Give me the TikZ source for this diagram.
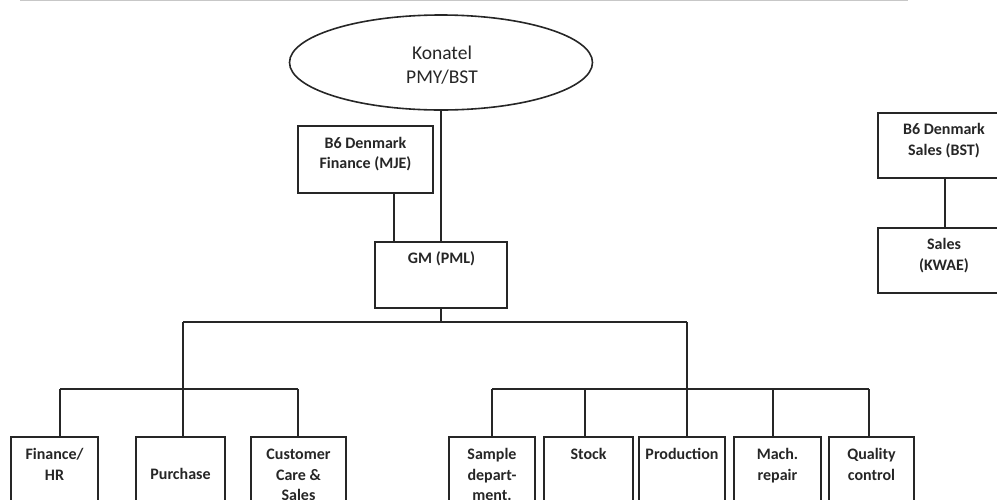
\documentclass[tikz,border=0pt]{standalone}
\usepackage{fontspec}
\setmainfont{Carlito}
\usetikzlibrary{shapes.geometric}
\begin{document}
\begin{tikzpicture}[x=1pt,y=-1pt,
  box/.style={draw=black!85, line width=1.6pt, inner sep=0, outer sep=0, anchor=north west},
  lbl/.style={font=\fontsize{16}{20.5}\selectfont\bfseries, align=center, inner sep=0, anchor=north, text=black!85},
  wire/.style={draw=black!85, line width=1.6pt}]
\useasboundingbox (0,0) rectangle (997,499);
\clip (0,0) rectangle (997,499);
% faint scan border at top
\coordinate (tl) at (20,0.8);
\coordinate (tr) at (908,0.8);
\draw[black!22, line width=1pt] (tl) -- (tr);

% top
\node[ellipse, draw=black!85, line width=1.6pt, minimum width=303, minimum height=95, inner sep=0] (kon) at (441,62.5) {};
\node[lbl, font=\fontsize{19.5}{24}\selectfont] (kont) at (442,42.5) {\strut Konatel\\PMY/BST};

\node[box, minimum width=135, minimum height=67] (mje) at (298,126) {};
\node[lbl] (mjet) at (365.5,133.8) {\strut B6 Denmark\\Finance (MJE)};

\node[box, minimum width=132, minimum height=66] (gm) at (375,242) {};
\node[lbl] (gmt) at (441.5,248.8) {\strut GM (PML)};

% right
\node[box, minimum width=132, minimum height=65] (bst) at (878,113) {};
\node[lbl] (bstt) at (944,120) {\strut B6 Denmark\\Sales (BST)};
\node[box, minimum width=132, minimum height=65] (kwae) at (878,228) {};
\node[lbl] (kwaet) at (944,235) {\strut Sales\\(KWAE)};

% bottom row
\node[box, minimum width=87, minimum height=90] (fin) at (11,437) {};
\node[lbl] (fint) at (54.5,445) {\strut Finance/\\HR};
\node[box, minimum width=89, minimum height=90] (pur) at (136,437) {};
\node[lbl] (purt) at (180.5,465) {\strut Purchase};
\node[box, minimum width=95, minimum height=90] (cus) at (251,437) {};
\node[lbl] (cust) at (298.5,445) {\strut Customer\\Care \&\\Sales};
\node[box, minimum width=86, minimum height=90] (sam) at (449,437) {};
\node[lbl] (samt) at (492,445) {\strut Sample\\depart-\\ment.};
\node[box, minimum width=89, minimum height=90] (sto) at (544,437) {};
\node[lbl] (stot) at (588.5,445) {\strut Stock};
\node[box, minimum width=86, minimum height=90] (pro) at (639,437) {};
\node[lbl] (prot) at (682,445) {\strut Production};
\node[box, minimum width=87, minimum height=90] (mac) at (734,437) {};
\node[lbl] (mact) at (777.5,445) {\strut Mach.\\repair};
\node[box, minimum width=85, minimum height=90] (qua) at (829,437) {};
\node[lbl] (quat) at (871.5,445) {\strut Quality\\control};

% junctions
\coordinate (bus) at (441,322);
\coordinate (busL) at (183,322);
\coordinate (busR) at (687,322);
\coordinate (jL) at (183,389);
\coordinate (jR) at (687,389);
\coordinate (j1) at (60,389);
\coordinate (j3) at (298,389);
\coordinate (k1) at (492,389);
\coordinate (k2) at (585,389);
\coordinate (k4) at (773,389);
\coordinate (k5) at (869,389);
\coordinate (fx) at (394,193);

% connectors
\draw[wire] (kon.south) -- (kon.south |- gm.north);
\draw[wire] (fx) -- (fx |- gm.north);
\draw[wire] (gm.south -| bus) -- (bus);
\draw[wire] (busL) -- (busR);
\draw[wire] (busL) -- (busL |- pur.north);
\draw[wire] (busR) -- (busR |- pro.north);
\draw[wire] (j1) -- (j3);
\draw[wire] (j1) -- (j1 |- fin.north);
\draw[wire] (j3) -- (j3 |- cus.north);
\draw[wire] (k1) -- (k5);
\draw[wire] (k1) -- (k1 |- sam.north);
\draw[wire] (k2) -- (k2 |- sto.north);
\draw[wire] (k4) -- (k4 |- mac.north);
\draw[wire] (k5) -- (k5 |- qua.north);
\draw[wire] (bst.south -| 945,0) -- (kwae.north -| 945,0);
\end{tikzpicture}
\end{document}
